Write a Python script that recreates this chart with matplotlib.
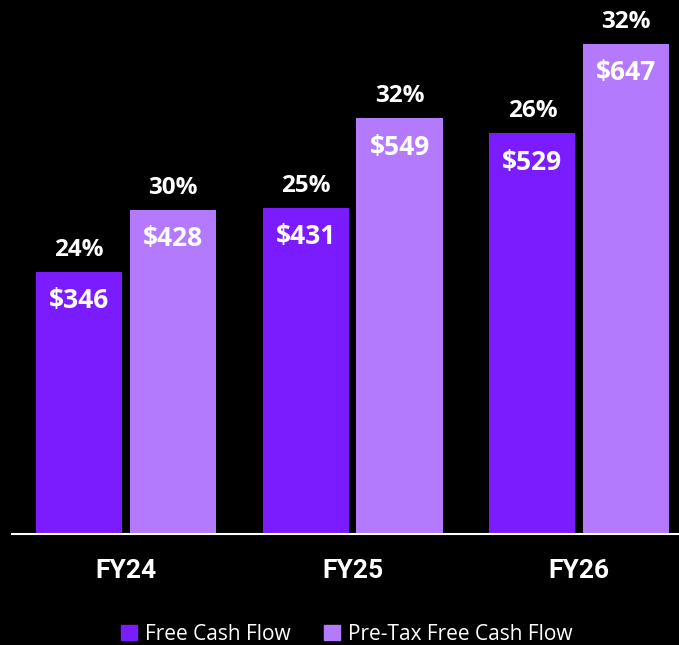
import matplotlib
matplotlib.use("Agg")
import matplotlib.pyplot as plt
import numpy as np
from matplotlib.patches import Patch

categories = ["FY24", "FY25", "FY26"]
fcf = [346, 431, 529]
ptfcf = [428, 549, 647]
fcf_pct = ["24%", "25%", "26%"]
ptfcf_pct = ["30%", "32%", "32%"]

dark = "#7A1CFF"
light = "#B47AFE"

fig = plt.figure(figsize=(6.79, 6.45), dpi=100, facecolor="black")
ax = fig.add_axes([12/679, 1-534/645, 667/679, 534/645])
ax.set_facecolor("black")

x = np.arange(len(categories))
w = 0.38
off = 0.207
ax.bar(x - off, fcf, w, color=dark, label="Free Cash Flow")
ax.bar(x + off, ptfcf, w, color=light, label="Pre-Tax Free Cash Flow")

ax.set_xlim(-0.503, 2.44)
ax.set_ylim(0, 705)

fam = ["Open Sans", "DejaVu Sans"]
for xs, vals, pcts in [(x - off, fcf, fcf_pct), (x + off, ptfcf, ptfcf_pct)]:
    for xi, v, p in zip(xs, vals, pcts):
        ax.annotate(p, (xi, v), xytext=(0, 22), textcoords="offset pixels",
                    ha="center", va="center", color="white", fontsize=17.5,
                    fontweight="bold", family=fam)
        ax.annotate(f"${v}", (xi, v), xytext=(0, -29), textcoords="offset pixels",
                    ha="center", va="center", color="white", fontsize=19,
                    fontweight="bold", family=fam)

for s in ["top", "right", "left"]:
    ax.spines[s].set_visible(False)
ax.spines["bottom"].set_color("white")
ax.spines["bottom"].set_linewidth(1.5)
ax.set_yticks([])
ax.set_xticks(x)
ax.set_xticklabels(categories, color="white", fontsize=19, fontweight="bold",
                   family=["Roboto", "DejaVu Sans"])
ax.tick_params(axis="x", length=0, pad=18)

handles = [Patch(color=dark, label="Free Cash Flow"),
           Patch(color=light, label="Pre-Tax Free Cash Flow")]
leg = fig.legend(handles=handles, loc="center", bbox_to_anchor=(347/679, 1-634/645),
                 ncol=2, frameon=False, handlelength=0.75, handleheight=0.75,
                 handletextpad=0.4, columnspacing=1.6,
                 prop={"family": "Open Sans", "size": 15})
for t in leg.get_texts():
    t.set_color("white")

fig.savefig("out.png", dpi=100, facecolor="black")
